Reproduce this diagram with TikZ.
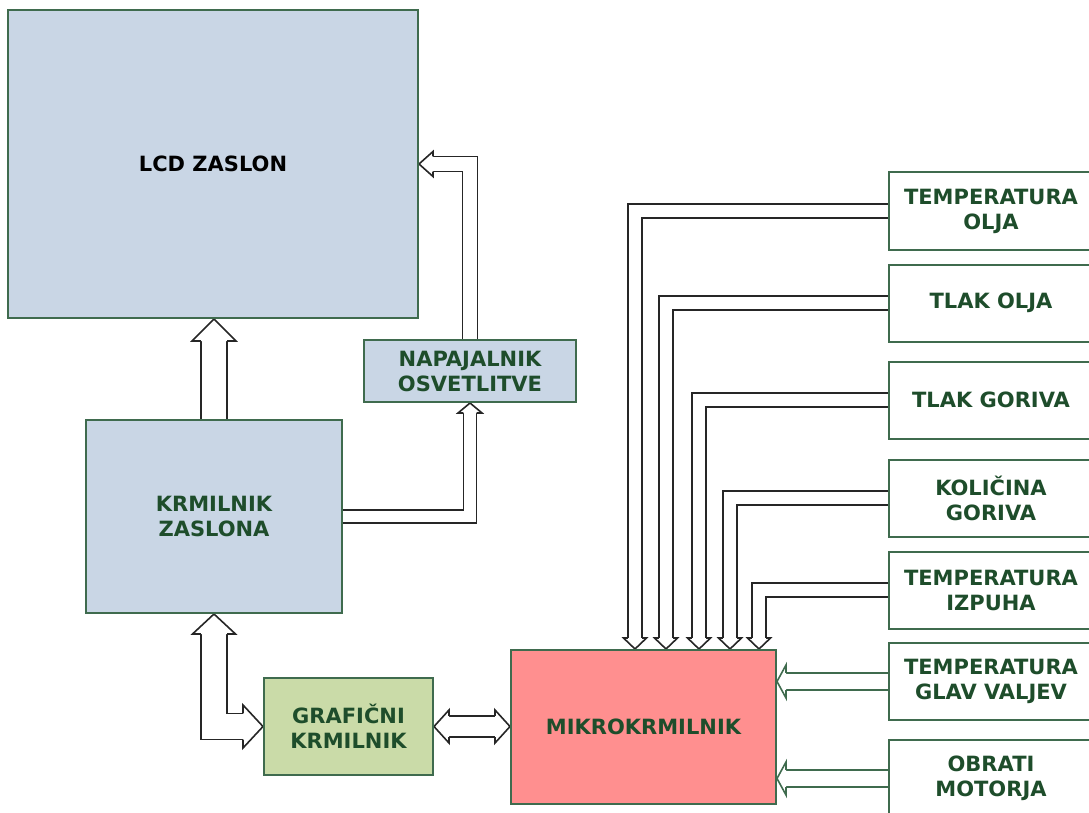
\documentclass[tikz,border=0pt]{standalone}
\usepackage{fontspec}
\setmainfont{DejaVu Sans}
\usetikzlibrary{decorations.markings,backgrounds}
\definecolor{boxline}{HTML}{3F6B4E}
\definecolor{boxtext}{HTML}{1E4D2B}
\definecolor{screenblue}{HTML}{C9D6E5}
\definecolor{gpugreen}{HTML}{CADBA8}
\definecolor{mcured}{HTML}{FF8F8F}
\begin{document}
\begin{tikzpicture}[x=1pt,y=-1pt,
	block/.style={draw=boxline,line width=2pt,fill=#1,inner sep=0pt,align=center,text=boxtext,font=\bfseries\fontsize{21}{25}\selectfont},
	sensor/.style={block=white,minimum width=204pt,minimum height=77pt},
	bus/.style n args={4}{draw=#4,line width=1.6pt,double,double distance=#1pt,shorten >=#3pt,
		postaction={decorate,decoration={markings,mark=at position 1 with {
			\draw[#4,line width=1.6pt,fill=white,shorten >=0pt,shorten <=0pt] (-#3pt,{(#1pt+1.6pt)/2}) -- (-#3pt,#2pt) -- (0pt,0pt) -- (-#3pt,-#2pt) -- (-#3pt,{-(#1pt+1.6pt)/2});}}}},
	bibus/.style n args={4}{bus={#1}{#2}{#3}{#4},shorten <=#3pt,
		postaction={decorate,decoration={markings,mark=at position 0 with {
			\draw[#4,line width=1.6pt,fill=white,shorten >=0pt,shorten <=0pt] (#3pt,{(#1pt+1.6pt)/2}) -- (#3pt,#2pt) -- (0pt,0pt) -- (#3pt,-#2pt) -- (#3pt,{-(#1pt+1.6pt)/2});}}}}]
	\useasboundingbox (0,0) rectangle (1089,813);
	\node [block=screenblue,minimum width=410pt,minimum height=308pt,text=black] (lcd) at (213,164) {LCD ZASLON};
	\node [block=screenblue,minimum width=212pt,minimum height=62pt] (nap) at (470,371) {NAPAJALNIK\\OSVETLITVE};
	\node [block=screenblue,minimum width=256pt,minimum height=193pt] (krm) at (214,516.5) {KRMILNIK\\ZASLONA};
	\node [block=gpugreen,minimum width=169pt,minimum height=97pt] (gpu) at (348.5,726.5) {GRAFIČNI\\KRMILNIK};
	\node [block=mcured,minimum width=265pt,minimum height=154pt] (mcu) at (643.5,727) {MIKROKRMILNIK};
	\node [sensor] (t1) at (991,211) {TEMPERATURA\\OLJA};
	\node [sensor] (t2) at (991,303) {TLAK OLJA};
	\node [sensor] (t3) at (991,400) {TLAK GORIVA};
	\node [sensor] (t4) at (991,498) {KOLIČINA\\GORIVA};
	\node [sensor] (t5) at (991,590) {TEMPERATURA\\IZPUHA};
	\node [sensor] (t6) at (991,681.5) {TEMPERATURA\\GLAV VALJEV};
	\node [sensor] (t7) at (991,778.5) {OBRATI\\MOTORJA};
	\begin{scope}[on background layer]
		\draw [bus={24.5}{22}{22}{black!85}] (krm.north) -- (krm.north |- lcd.south);
		\draw [bus={13.5}{12.5}{14}{black!85}] (nap.north) |- (lcd.east);
		\draw [bus={11.5}{12}{10}{black!85}] (krm.east) -| (nap.south);
		\draw [bibus={24.5}{21.5}{20}{black!85}] (gpu.west) -| (krm.south);
		\draw [bibus={19.5}{16.5}{15}{black!85}] (gpu.east) -- (gpu.east -| mcu.west);
		\foreach \s/\dx in {t1/125,t2/156,t3/189,t4/220,t5/249}
			\draw [bus={12.5}{11.5}{11}{black!85}] (\s.west) -| ([xshift=\dx pt]mcu.north west);
		\draw [bus={15.5}{16.5}{9}{boxline}] (t6.west) -- (t6.west -| mcu.east);
		\draw [bus={15.5}{16.5}{9}{boxline}] (t7.west) -- (t7.west -| mcu.east);
	\end{scope}
\end{tikzpicture}
\end{document}
